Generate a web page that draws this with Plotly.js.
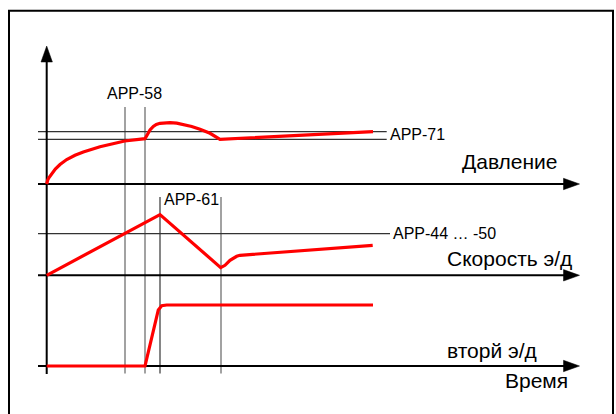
<!DOCTYPE html>
<html><head><meta charset="utf-8">
<script src="https://cdn.plot.ly/plotly-3.0.1.min.js"></script>
<style>html,body{margin:0;padding:0;background:#fff;overflow:hidden}</style>
</head><body><div id="c" style="width:616px;height:414px"></div>
<script>
// ---- data (time in arbitrary units, level of each signal above its own baseline) ----
const pressureT = [0, 0.3, 1, 2, 3.3, 5.3, 8.6, 13.3, 20, 28.3, 36.6, 53.3, 78, 98.3, 100, 101.6, 103.3, 106.6, 109.6, 113.3, 118, 123.3, 130, 136.6, 145, 153.3, 163.3, 173.3, 326.3];
const pressureV = [0, 2, 4, 6, 8, 11, 15, 19.5, 24.5, 28.7, 32, 37.3, 43, 45.3, 48, 51, 54, 57.5, 59.5, 60.7, 61.2, 61.3, 60.8, 59.7, 57.5, 54.7, 50.7, 44.7, 52.3];
const speedT = [0, 113.3, 174, 178.3, 183.3, 190, 193.3, 326];
const speedV = [0, 60.7, 7.7, 10, 15, 19, 20, 30];
const motorT = [0, 98.3, 111.6, 115, 120, 326.3];
const motorV = [0, 0, 56, 60.3, 61, 61];
const pressureLimits = [52.3, 44.7];   // APP-71
const speedLimit = [41.7];             // APP-44 ... -50
const markerT = [78.3, 98.3, 113.3, 174.3];
const axisLabels = ['Давление', 'Скорость э/д', 'вторй э/д', 'Время'];
const markerLabels = ['APP-58', 'APP-61', 'APP-71', 'APP-44 … -50'];

// ---- layout helpers (pixel -> paper) ----
const W = 616, H = 414;
const PX = p => p / W;
const PY = p => 1 - p / H;
const FONT = 'Liberation Sans, Arial, sans-serif';
const red = {color: '#ff0000', width: 3.2};

const data = [
  {x: pressureT, y: pressureV, yaxis: 'y', mode: 'lines', line: red, hoverinfo: 'skip'},
  {x: speedT, y: speedV, yaxis: 'y2', mode: 'lines', line: red, hoverinfo: 'skip'},
  {x: motorT, y: motorV, yaxis: 'y3', mode: 'lines', line: red, hoverinfo: 'skip'}
];

const shapes = [];
// outer frame
shapes.push({type: 'rect', xref: 'paper', yref: 'paper', x0: PX(9), x1: PX(613), y0: -0.05, y1: PY(10.7),
  line: {color: '#000', width: 2}, layer: 'below'});
// marker verticals
const markerTop = [107, 107, 197, 197];
markerT.forEach((t, i) => shapes.push({type: 'line', xref: 'x', yref: 'paper', x0: t, x1: t,
  y0: PY(373.5), y1: PY(markerTop[i]), line: {color: i === 2 ? '#444' : '#707070', width: 1.3}, layer: 'below'}));
// limit lines
pressureLimits.forEach(v => shapes.push({type: 'line', xref: 'paper', yref: 'y', x0: PX(38), x1: PX(386.7),
  y0: v, y1: v, line: {color: '#333', width: 1.2}, layer: 'below'}));
speedLimit.forEach(v => shapes.push({type: 'line', xref: 'paper', yref: 'y2', x0: PX(38), x1: PX(390),
  y0: v, y1: v, line: {color: '#333', width: 1.2}, layer: 'below'}));
// baselines with arrowheads
[['y', 184], ['y2', 275.3], ['y3', 366]].forEach(([ax, py]) => {
  shapes.push({type: 'line', xref: 'paper', yref: ax, x0: PX(38), x1: PX(566), y0: 0, y1: 0,
    line: {color: '#000', width: 2}, layer: 'below'});
  const tip = 579.5, base = 563.5, hh = 5.7;
  shapes.push({type: 'path', xref: 'paper', yref: 'paper',
    path: `M ${PX(tip)} ${PY(py)} L ${PX(base)} ${PY(py - hh)} L ${PX(base)} ${PY(py + hh)} Z`,
    fillcolor: '#000', line: {color: '#000', width: 0.5}, layer: 'below'});
});
// vertical axis with arrowhead
shapes.push({type: 'line', xref: 'x', yref: 'paper', x0: 0, x1: 0, y0: PY(374), y1: PY(60),
  line: {color: '#000', width: 2}, layer: 'below'});
shapes.push({type: 'path', xref: 'paper', yref: 'paper',
  path: `M ${PX(46.7)} ${PY(46)} L ${PX(41)} ${PY(62)} L ${PX(52.4)} ${PY(62)} Z`,
  fillcolor: '#000', line: {color: '#000', width: 0.5}, layer: 'below'});

const ann = (text, px, py, size, anchor) => ({text, xref: 'paper', yref: 'paper', x: PX(px), y: PY(py),
  xanchor: anchor, yanchor: 'middle', showarrow: false, font: {family: FONT, size, color: '#000'}});
const annotations = [
  ann(markerLabels[0], 134, 93.4, 16, 'center'),
  ann(markerLabels[1], 161.5, 199.8, 16, 'left'),
  ann(markerLabels[2], 388, 134.3, 16, 'left'),
  ann(markerLabels[3], 390.5, 233.5, 16, 'left'),
  ann(axisLabels[0], 460, 161.7, 21, 'left'),
  ann(axisLabels[1], 445, 258.3, 21, 'left'),
  ann(axisLabels[2], 445, 350.8, 21, 'left'),
  ann(axisLabels[3], 503, 380.8, 21, 'left')
];

const hidden = {visible: false, showgrid: false, zeroline: false, fixedrange: true};
const layout = {
  width: W, height: H, autosize: false,
  margin: {l: 0, r: 0, t: 0, b: 0, pad: 0},
  paper_bgcolor: '#fff', plot_bgcolor: 'rgba(0,0,0,0)',
  showlegend: false,
  xaxis: Object.assign({range: [-46.7, 616 - 46.7]}, hidden),
  yaxis: Object.assign({range: [-(H - 184), 184]}, hidden),
  yaxis2: Object.assign({range: [-(H - 275.3), 275.3], overlaying: 'y'}, hidden),
  yaxis3: Object.assign({range: [-(H - 366), 366], overlaying: 'y'}, hidden),
  shapes, annotations
};
Plotly.newPlot('c', data, layout, {staticPlot: true, displayModeBar: false});
</script></body></html>
